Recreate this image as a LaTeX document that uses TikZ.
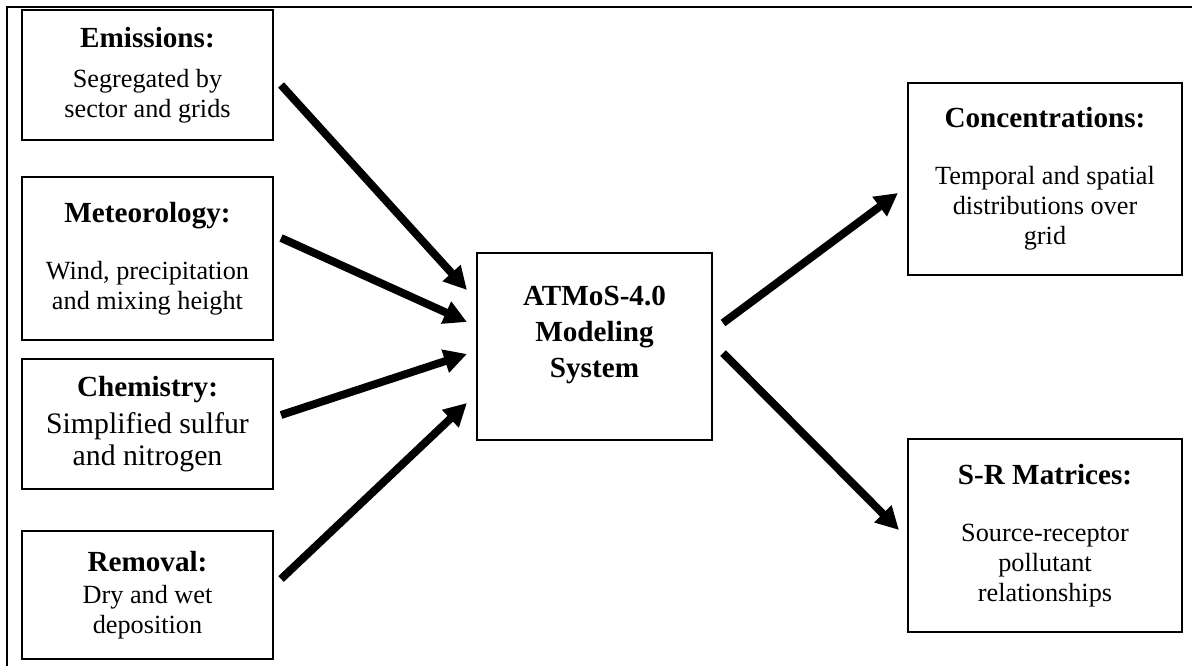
\documentclass[tikz,border=0pt]{standalone}
\usepackage{fontspec}
\setmainfont{Liberation Serif}
\usetikzlibrary{arrows.meta}

\newcommand{\boxtitle}[1]{{\fontsize{14}{17}\selectfont\bfseries #1}}

\begin{document}
\begin{tikzpicture}[x=0.48pt, y=-0.48pt,
    inbox/.style={draw, line width=1pt, minimum width=120.5pt, align=center,
                  inner sep=0pt, font=\fontsize{12.6}{14.4}\selectfont},
    outbox/.style={draw, line width=1pt, minimum width=131.5pt, align=center,
                   inner sep=0pt, font=\fontsize{12.6}{14.4}\selectfont},
    flow/.style={line width=3.8pt, -{Triangle[length=11pt,width=11pt]}}]
    \useasboundingbox (0,0) rectangle (1192,666);

    % Frame
    \draw[line width=1pt] (1192,7) -- (7,7) -- (7,666);

    % Inputs
    \node[inbox, minimum height=62.4pt] (emis) at (147.5,75)
        {\boxtitle{Emissions:}\\[5pt] Segregated by\\ sector and grids};
    \node[inbox, minimum height=78.2pt] (met) at (147.5,258.5)
        {\boxtitle{Meteorology:}\\[13pt] Wind, precipitation\\ and mixing height};
    \node[inbox, minimum height=62.4pt, font=\fontsize{14.3}{15.4}\selectfont] (chem) at (147.5,424)
        {\boxtitle{Chemistry:}\\[2.4pt] Simplified sulfur\\ and nitrogen};
    \node[inbox, minimum height=61.4pt] (remo) at (147.5,595)
        {\boxtitle{Removal:}\\[1.2pt] Dry and wet\\ deposition};

    % Model
    \node[draw, line width=1pt, minimum width=112.8pt, minimum height=89.8pt] (atmos) at (594.5,346.5) {};
    \node[font=\fontsize{14}{17.3}\selectfont\bfseries, align=center] (atmostxt)
        at ([yshift=5.5pt]atmos.center) {ATMoS-4.0\\ Modeling\\ System};

    % Outputs
    \node[outbox, minimum height=92.2pt] (conc) at (1045,179)
        {\boxtitle{Concentrations:}\\[13pt] Temporal and spatial\\ distributions over\\ grid};
    \node[outbox, minimum height=92.6pt] (srm) at (1045,535.5)
        {\boxtitle{S-R Matrices:}\\[13pt] Source-receptor\\ pollutant\\ relationships};

    % Arrows
    \draw[flow] ([shift={(7,10)}]emis.east) -- ([shift={(-9,-56.5)}]atmos.west);
    \draw[flow] ([shift={(7,-20.5)}]met.east) -- ([shift={(-9,-24.5)}]atmos.west);
    \draw[flow] ([shift={(7,-9)}]chem.east) -- ([shift={(-9,7.5)}]atmos.west);
    \draw[flow] ([shift={(7,-16)}]remo.east) -- ([shift={(-9,56.5)}]atmos.west);
    \draw[flow] ([shift={(10,-23.5)}]atmos.east) -- ([shift={(-9,14)}]conc.west);
    \draw[flow] ([shift={(10,6.5)}]atmos.east) -- ([shift={(-8,-5.5)}]srm.west);
\end{tikzpicture}
\end{document}
